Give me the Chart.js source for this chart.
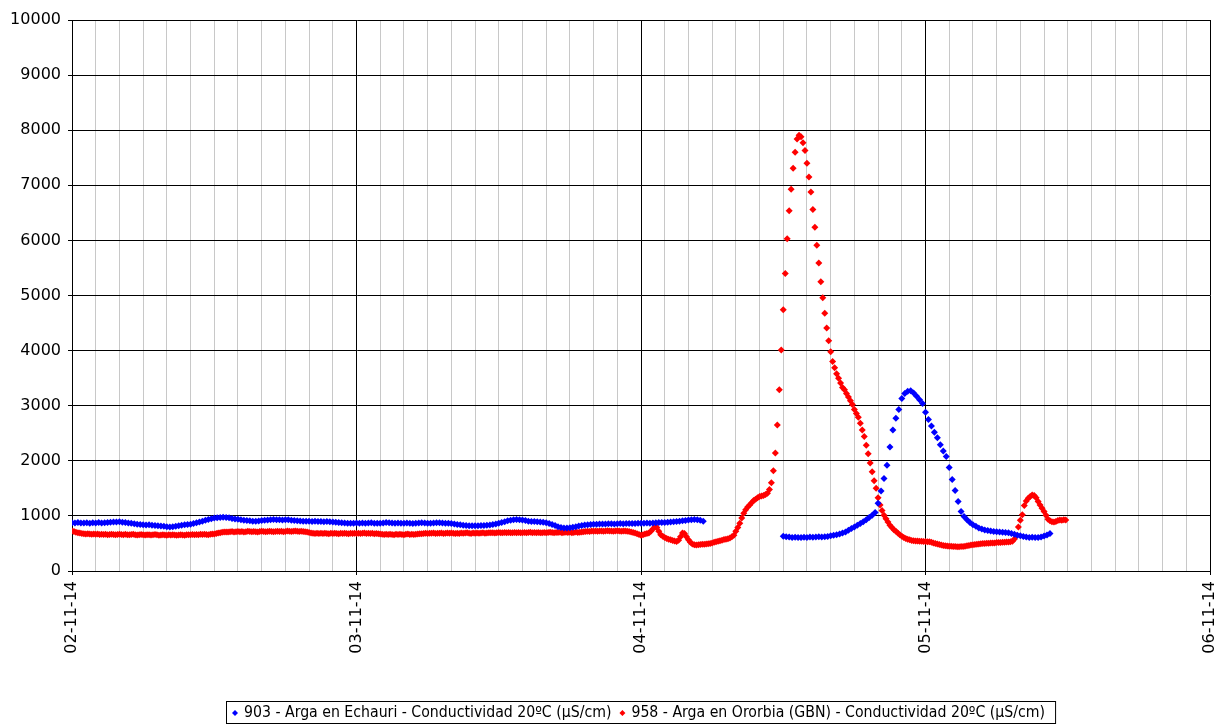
<!DOCTYPE html>
<html>
<head>
<meta charset="utf-8">
<script src="https://cdn.jsdelivr.net/npm/chart.js@4"></script>
<style>
    html, body { margin: 0; padding: 0; background: #fff; }
    canvas { display: block; }
</style>
</head>
<body>
<canvas id="conductividadChart" width="1219" height="724"></canvas>
<script>
// Conductividad 20ºC - Arga, 02-11-14 a 06-11-14

// x axis: hours since 02-11-14 00:00
const dayLabels = ["02-11-14", "03-11-14", "04-11-14", "05-11-14", "06-11-14"];
const xMaxHours = 96;
const yTicks = [0, 1000, 2000, 3000, 4000, 5000, 6000, 7000, 8000, 9000, 10000];

const labelEchauri = "903 - Arga en Echauri - Conductividad 20ºC (µS/cm)";
const labelOrorbia = "958 - Arga en Ororbia (GBN) - Conductividad 20ºC (µS/cm)";

// 903 Echauri, every 15 min, from 02-11 00:00 to 04-11 05:15
const echauriStartA = 0;
const echauriA = [
    875, 870, 878, 872, 870, 876, 868, 874, 872, 878, 870, 875,
    880, 885, 890, 888, 892, 886, 880, 872, 865, 858, 850, 845,
    840, 835, 838, 830, 825, 820, 815, 810, 805, 800, 805, 812,
    820, 830, 838, 842, 848, 860, 875, 890, 905, 920, 935, 950,
    960, 968, 972, 975, 970, 965, 955, 945, 938, 930, 922, 915,
    910, 905, 902, 908, 915, 920, 925, 930, 935, 932, 928, 925,
    930, 928, 922, 918, 912, 908, 905, 902, 905, 900, 903, 898,
    900, 896, 898, 894, 890, 885, 880, 875, 870, 865, 868, 866,
    870, 868, 872, 866, 870, 874, 868, 865, 868, 872, 878, 875,
    870, 866, 872, 868, 865, 870, 868, 862, 866, 872, 875, 870,
    868, 865, 870, 874, 876, 872, 868, 865, 860, 852, 845, 838,
    830, 825, 822, 820, 822, 820, 825, 828, 830, 835, 845, 855,
    865, 880, 895, 910, 920, 930, 935, 932, 925, 915, 905, 900,
    898, 895, 890, 885, 875, 860, 845, 825, 805, 790, 782, 780,
    785, 795, 805, 815, 825, 835, 840, 845, 848, 850, 852, 855,
    852, 856, 858, 855, 858, 860, 856, 862, 860, 864, 862, 866,
    865, 868, 870, 868, 872, 875, 878, 880, 882, 885, 888, 892,
    898, 905, 912, 918, 925, 932, 935, 930, 920, 905
];

// 903 Echauri, every 15 min, from 04-11 12:00 to 05-11 10:30
const echauriStartB = 60;
const echauriB = [
    630, 620, 615, 610, 612, 608, 610, 612, 610, 615, 612, 618,
    620, 615, 622, 625, 640, 650, 660, 670, 690, 710, 740, 770,
    800, 830, 860, 895, 930, 970, 1010, 1060, 1230, 1450, 1680, 1920,
    2250, 2560, 2770, 2930, 3130, 3220, 3260, 3270, 3230, 3170, 3110, 3040,
    2880, 2750, 2630, 2520, 2420, 2290, 2180, 2080, 1880, 1660, 1460, 1260,
    1080, 990, 930, 880, 840, 810, 780, 760, 745, 735, 725, 715,
    712, 710, 705, 700, 695, 680, 665, 650, 640, 625, 615, 610,
    612, 608, 610, 615, 635, 655, 680
];
const echauriStep = 0.25;

// 958 Ororbia, every 10 min, from 02-11 00:00 to 05-11 11:50
const ororbiaStart = 0;
const ororbia = [
    725, 715, 705, 695, 688, 682, 678, 672, 676, 670, 668, 672,
    666, 670, 664, 668, 662, 666, 660, 664, 668, 662, 658, 664,
    668, 662, 658, 665, 660, 656, 662, 666, 660, 655, 660, 664,
    658, 654, 660, 656, 652, 658, 662, 656, 650, 655, 660, 654,
    650, 656, 652, 658, 654, 650, 655, 660, 654, 650, 656, 660,
    656, 662, 658, 664, 660, 666, 662, 668, 664, 660, 666, 670,
    672, 680, 688, 695, 702, 706, 710, 706, 712, 716, 710, 714,
    718, 712, 716, 710, 714, 720, 716, 712, 718, 714, 710, 716,
    720, 716, 712, 718, 722, 716, 712, 718, 722, 716, 720, 714,
    718, 724, 720, 716, 722, 726, 720, 716, 722, 718, 712, 708,
    698, 690, 686, 682, 685, 680, 684, 680, 686, 682, 678, 684,
    680, 686, 682, 678, 684, 680, 685, 681, 678, 684, 680, 686,
    682, 686, 680, 684, 688, 682, 686, 680, 684, 678, 682, 676,
    672, 668, 664, 668, 662, 666, 664, 660, 666, 662, 668, 664,
    660, 665, 670, 664, 668, 662, 666, 670, 674, 678, 682, 685,
    682, 686, 684, 688, 682, 686, 684, 688, 682, 686, 690, 684,
    688, 684, 680, 686, 682, 688, 684, 688, 692, 686, 682, 688,
    686, 690, 684, 688, 692, 686, 690, 694, 692, 696, 690, 694,
    698, 692, 696, 700, 694, 698, 692, 696, 700, 694, 698, 692,
    696, 700, 694, 698, 702, 696, 700, 694, 698, 692, 696, 700,
    696, 700, 704, 698, 694, 700, 698, 702, 696, 700, 704, 698,
    702, 696, 700, 706, 700, 704, 708, 712, 716, 720, 718, 724,
    722, 726, 720, 724, 728, 722, 726, 730, 724, 728, 722, 726,
    730, 726, 722, 728, 724, 720, 716, 708, 700, 690, 676, 664,
    650, 660, 670, 680, 690, 720, 760, 800, 790, 720, 660, 630,
    610, 590, 575, 565, 555, 545, 535, 560, 620, 690, 680, 620,
    565, 520, 490, 475, 470, 475, 480, 485, 485, 490, 495, 500,
    510, 520, 530, 540, 550, 560, 570, 575, 585, 600, 620, 650,
    720, 790, 866, 960, 1047, 1110, 1160, 1198, 1240, 1280, 1300, 1330,
    1350, 1360, 1370, 1390, 1410, 1480, 1600, 1820, 2140, 2650, 3290, 4010,
    4740, 5400, 6030, 6540, 6930, 7310, 7600, 7840, 7910, 7880, 7770, 7630,
    7400, 7150, 6880, 6560, 6240, 5910, 5590, 5250, 4960, 4680, 4410, 4180,
    3980, 3800, 3690, 3580, 3500, 3410, 3330, 3290, 3220, 3160, 3090, 3020,
    2930, 2860, 2790, 2680, 2560, 2440, 2280, 2130, 1960, 1800, 1640, 1500,
    1330, 1200, 1100, 1010, 950, 890, 830, 790, 750, 720, 690, 660,
    630, 610, 590, 575, 565, 555, 550, 545, 545, 540, 540, 535,
    535, 530, 530, 520, 510, 500, 490, 480, 470, 465, 460, 455,
    450, 450, 445, 445, 440, 440, 445, 445, 450, 460, 465, 470,
    475, 480, 485, 490, 495, 500, 500, 505, 505, 510, 510, 510,
    515, 515, 515, 520, 520, 525, 525, 530, 540, 580, 640, 800,
    920, 1020, 1190, 1270, 1320, 1350, 1380, 1370, 1330, 1260, 1200, 1140,
    1080, 1010, 940, 910, 895, 890, 900, 915, 925, 920, 930, 925
];
const ororbiaStep = 1 / 6;

const colorEchauri = "#0000ff";
const colorOrorbia = "#ff0000";

// Build {x, y} points from a start hour and a step
function toPoints(values, start, step) {
    return values.map((v, i) => ({ x: start + i * step, y: v }));
}

// Bordered legend below the plot, centred on the chart area
const boxLegend = {
    id: "boxLegend",
    afterDraw(chart) {
        const ctx = chart.ctx;
        const area = chart.chartArea;
        ctx.save();
        ctx.font = '15.7px "DejaVu Sans Condensed", "Liberation Sans Narrow", "DejaVu Sans", sans-serif';
        ctx.textBaseline = "middle";
        const items = chart.data.datasets.map((ds) => ({
            text: ds.label,
            color: ds.backgroundColor,
            width: ctx.measureText(ds.label).width,
        }));
        const markerW = 12;
        const itemGap = 8;
        let total = 8;
        items.forEach((it) => (total += markerW + it.width + itemGap));
        const left = Math.round((area.left + area.right) / 2 - total / 2);
        const top = 701;
        const height = 22;
        ctx.strokeStyle = "#000";
        ctx.lineWidth = 1;
        ctx.strokeRect(left + 0.5, top + 0.5, total, height);

        let x = left + 6;
        const yMid = top + height / 2 + 1;
        items.forEach((it) => {
            ctx.fillStyle = it.color;
            ctx.beginPath();
            ctx.moveTo(x + 3, yMid - 3);
            ctx.lineTo(x + 6, yMid);
            ctx.lineTo(x + 3, yMid + 3);
            ctx.lineTo(x, yMid);
            ctx.closePath();
            ctx.fill();
            x += markerW;
            ctx.fillStyle = "#000";
            ctx.fillText(it.text, x, yMid);
            x += it.width + itemGap;
        });
        ctx.restore();
    },
};

function isMajor(value) {
    return value % 24 === 0;
}

document.addEventListener("DOMContentLoaded", function () {
    const ctx = document.getElementById("conductividadChart");

    const tickFont = { family: "'DejaVu Sans', Verdana, sans-serif", size: 16 };

    new Chart(ctx, {
        type: "scatter",
        data: {
            datasets: [
                {
                    label: labelEchauri,
                    data: toPoints(echauriA, echauriStartA, echauriStep).concat(
                        toPoints(echauriB, echauriStartB, echauriStep)
                    ),
                    backgroundColor: colorEchauri,
                    borderColor: colorEchauri,
                    pointStyle: "rectRot",
                    pointRadius: 3.5,
                    pointBorderWidth: 0,
                    showLine: false,
                },
                {
                    label: labelOrorbia,
                    data: toPoints(ororbia, ororbiaStart, ororbiaStep),
                    backgroundColor: colorOrorbia,
                    borderColor: colorOrorbia,
                    pointStyle: "rectRot",
                    pointRadius: 3.5,
                    pointBorderWidth: 0,
                    showLine: false,
                },
            ],
        },
        options: {
            responsive: false,
            animation: false,
            devicePixelRatio: 1,
            layout: {
                padding: { left: 0, right: 9, top: 20, bottom: 0 },
            },
            scales: {
                x: {
                    type: "linear",
                    min: 0,
                    max: xMaxHours,
                    afterBuildTicks: function (scale) {
                        const ticks = [];
                        for (let h = 0; h <= xMaxHours; h += 2) {
                            ticks.push({ value: h });
                        }
                        scale.ticks = ticks;
                    },
                    afterFit: function (scale) {
                        scale.height = 153;
                        scale.paddingLeft = 0;
                        scale.paddingRight = 0;
                    },
                    ticks: {
                        autoSkip: false,
                        minRotation: 90,
                        maxRotation: 90,
                        padding: 6,
                        color: "#000",
                        font: tickFont,
                        callback: function (value) {
                            return isMajor(value) ? dayLabels[value / 24] : "";
                        },
                    },
                    grid: {
                        color: (c) => (c.tick && isMajor(c.tick.value) ? "#000" : "#c8c8c8"),
                        tickColor: (c) => (c.tick && isMajor(c.tick.value) ? "#000" : "rgba(0,0,0,0)"),
                        tickLength: 4,
                        lineWidth: 1,
                    },
                    border: { color: "#000", width: 1 },
                },
                y: {
                    min: 0,
                    max: 10000,
                    afterBuildTicks: function (scale) {
                        scale.ticks = yTicks.map((v) => ({ value: v }));
                    },
                    afterFit: function (scale) {
                        scale.width = 72;
                        scale.paddingTop = 0;
                        scale.paddingBottom = 0;
                    },
                    ticks: {
                        padding: 7,
                        color: "#000",
                        font: tickFont,
                        callback: function (value) {
                            return String(value);
                        },
                    },
                    grid: {
                        color: "#000",
                        tickColor: "#000",
                        tickLength: 4,
                        lineWidth: 1,
                    },
                    border: { color: "#000", width: 1 },
                },
            },
            plugins: {
                legend: { display: false },
                tooltip: { enabled: false },
            },
        },
        plugins: [boxLegend],
    });
});
</script>
</body>
</html>
